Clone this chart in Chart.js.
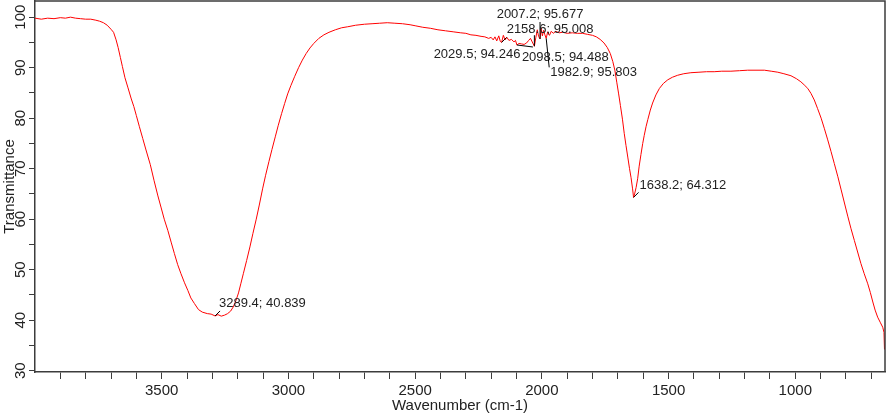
<!DOCTYPE html>
<html>
<head>
<meta charset="utf-8">
<script src="https://cdn.jsdelivr.net/npm/chart.js@4"></script>
<style>
  html, body { margin: 0; padding: 0; background: #fff; }
  #wrap { width: 886px; height: 415px; position: relative; }
</style>
</head>
<body>
<div id="wrap"><canvas id="graficoIR"></canvas></div>
<script>
const numeroOnda = [
  4000, 3975, 3950, 3925, 3900, 3880, 3860, 3840, 3820, 3800, 3780, 3760, 3745, 3730, 3715, 3700,
  3690, 3680, 3672, 3663, 3655, 3645, 3633, 3620, 3610, 3600, 3588, 3575, 3562, 3545, 3530, 3515,
  3503, 3490, 3476, 3462, 3450, 3437, 3424, 3410, 3397, 3385, 3371, 3355, 3340, 3320, 3305, 3289.4,
  3278, 3265, 3252, 3240, 3228, 3218, 3207, 3197, 3188, 3178, 3165, 3152, 3140, 3127, 3115, 3102,
  3090, 3077, 3065, 3052, 3040, 3027, 3015, 3003, 2990, 2975, 2960, 2945, 2930, 2915, 2900, 2880,
  2860, 2840, 2815, 2790, 2766, 2735, 2700, 2670, 2640, 2610, 2580, 2550, 2520, 2500, 2470, 2440,
  2410, 2380, 2350, 2320, 2300, 2280, 2260, 2240, 2225, 2210, 2200, 2192, 2185, 2178, 2170, 2164,
  2158.6, 2152, 2145, 2138, 2130, 2120, 2110, 2104, 2098.5, 2090, 2080, 2070, 2060, 2052, 2045, 2038,
  2029.5, 2024, 2018, 2013, 2007.2, 2003, 1998, 1993, 1988, 1982.9, 1977, 1970, 1963, 1955, 1945, 1932,
  1918, 1900, 1880, 1860, 1840, 1820, 1800, 1785, 1770, 1755, 1742, 1730, 1720, 1712, 1704, 1697,
  1690, 1682, 1675, 1668, 1661, 1654, 1648, 1642, 1638.2, 1634, 1628, 1622, 1616, 1609, 1602, 1596,
  1589, 1582, 1572, 1563, 1550, 1536, 1520, 1503, 1485, 1464, 1440, 1412, 1380, 1350, 1320, 1290,
  1254, 1220, 1188, 1155, 1122, 1095, 1069, 1045, 1017, 995, 978, 965, 951, 938, 925, 912,
  898, 885, 872, 859, 846, 832, 819, 806, 793, 780, 767, 754, 741, 728, 714, 704,
  694, 685, 675, 665, 655, 650, 648
];
const transmitancia = [
  99.8, 99.6, 99.8, 99.7, 99.9, 99.8, 100.0, 99.8, 99.7, 99.6, 99.6, 99.4, 99.2, 98.9, 98.4, 97.6,
  97.0, 95.5, 94.0, 92.0, 90.2, 88.0, 86.0, 83.8, 82.3, 80.5, 78.3, 76.0, 73.7, 70.8, 67.6, 64.6,
  62.4, 60.0, 57.8, 55.3, 53.2, 51.0, 49.2, 47.4, 45.9, 44.4, 43.3, 42.1, 41.6, 41.3, 41.2, 40.839,
  41.1, 40.8, 41.0, 41.3, 41.8, 42.6, 43.9, 45.4, 47.2, 49.2, 51.8, 54.5, 57.2, 60.0, 62.8, 66.0,
  68.7, 71.4, 73.8, 76.3, 78.6, 80.9, 82.9, 84.8, 86.5, 88.3, 90.0, 91.5, 92.8, 93.9, 94.8, 95.8,
  96.5, 97.0, 97.5, 97.9, 98.1, 98.4, 98.6, 98.7, 98.8, 98.9, 98.8, 98.7, 98.5, 98.3, 98.0, 97.8,
  97.5, 97.3, 97.1, 96.9, 96.8, 96.5, 96.4, 96.2, 96.1, 95.8, 96.0, 95.5, 96.1, 95.3, 96.3, 95.2,
  95.008, 96.4, 95.5, 96.0, 95.4, 95.6, 95.1, 95.4, 94.488, 94.8, 94.7, 94.6, 94.9, 95.4, 95.8, 95.1,
  94.246, 95.9, 97.5, 96.2, 95.677, 97.9, 96.3, 97.4, 96.5, 95.803, 97.1, 96.4, 97.2, 96.8, 97.2, 96.9,
  97.0, 96.8, 96.9, 96.8, 96.8, 96.6, 96.4, 96.1, 95.6, 94.9, 94.0, 92.8, 91.2, 89.5, 87.0, 84.8,
  82.5, 79.8, 77.0, 74.6, 72.3, 70.0, 68.2, 66.0, 64.312, 65.0, 66.3, 68.0, 70.5, 72.8, 75.0, 76.6,
  78.3, 79.7, 81.6, 83.0, 84.6, 85.9, 86.9, 87.6, 88.1, 88.5, 88.8, 89.0, 89.1, 89.2, 89.2, 89.3,
  89.3, 89.4, 89.5, 89.5, 89.5, 89.3, 89.1, 88.8, 88.4, 87.8, 87.2, 86.6, 85.9, 84.9, 83.6, 81.9,
  80.0, 77.9, 75.7, 73.4, 71.0, 68.4, 65.8, 63.2, 60.6, 58.1, 55.8, 53.5, 51.2, 49.2, 47.2, 45.5,
  43.6, 42.0, 40.6, 39.6, 38.6, 37.6, 34.2
];

// Picos marcados no espectro
const picoX = [3289.4, 1638.2, 2007.2, 2158.6, 2029.5, 2098.5, 1982.9];
const picoY = [40.839, 64.312, 95.677, 95.008, 94.246, 94.488, 95.803];

// Rotulos dos eixos
const xTickLabels = [3500, 3000, 2500, 2000, 1500, 1000];
const yTickLabels = [30, 40, 50, 60, 70, 80, 90, 100];

// Posicao dos rotulos dos picos (em pixels, relativo ao ponto)
const posRotulos = [
  { dx: 4, dy: -13, align: 'left', lx: 5, ly: -5 },
  { dx: 6, dy: -12, align: 'left', lx: 5, ly: -5 },
  { dx: 0, dy: -25, align: 'center', lx: 0, ly: -17 },
  { dx: 5, dy: -12.5, align: 'left', lx: 5, ly: -5 },
  { dx: -14, dy: 8, align: 'right', lx: 0, ly: -11 },
  { dx: 5, dy: 12, align: 'left', lx: 16, ly: 2 },
  { dx: 4, dy: 34, align: 'left', lx: 3, ly: 29 }
];

const corEixo = '#3c3c3c';
const corTexto = '#222';

Chart.defaults.font.family = 'Arial, "Liberation Sans", sans-serif';

// ticks menores a cada 100 e a cada 5
const xTicks = [];
for (let v = 700; v <= 3900; v += 100) xTicks.push(v);
const yTicks = [];
for (let v = 30; v <= 100; v += 5) yTicks.push(v);

const pluginMoldura = {
  id: 'moldura',
  afterDraw(chart) {
    const { ctx, chartArea: a } = chart;
    ctx.save();
    ctx.strokeStyle = corEixo;
    ctx.lineWidth = 1.5;
    ctx.beginPath();
    ctx.moveTo(a.left, a.top);
    ctx.lineTo(a.right, a.top);
    ctx.lineTo(a.right, a.bottom);
    ctx.stroke();
    ctx.restore();
  }
};

const pluginPicos = {
  id: 'picos',
  afterDatasetsDraw(chart) {
    const { ctx } = chart;
    const x = chart.scales.x;
    const y = chart.scales.y;
    ctx.save();
    ctx.font = '13px Arial, "Liberation Sans", sans-serif';
    ctx.fillStyle = corTexto;
    ctx.strokeStyle = '#000';
    ctx.lineWidth = 1;
    picoX.forEach((px, i) => {
      const cx = x.getPixelForValue(px);
      const cy = y.getPixelForValue(picoY[i]);
      const pos = posRotulos[i];
      ctx.beginPath();
      ctx.moveTo(cx, cy);
      ctx.lineTo(cx + pos.lx, cy + pos.ly);
      ctx.stroke();
      const texto = px.toFixed(1) + '; ' + picoY[i].toFixed(3);
      ctx.textAlign = pos.align;
      ctx.textBaseline = 'middle';
      ctx.fillText(texto, cx + pos.dx, cy + pos.dy);
    });
    ctx.restore();
  }
};

new Chart(document.getElementById('graficoIR'), {
  type: 'line',
  data: {
    datasets: [{
      label: 'Transmittance',
      data: numeroOnda.map((w, i) => ({ x: w, y: transmitancia[i] })),
      borderColor: '#ff0000',
      borderWidth: 1,
      pointRadius: 0,
      tension: 0,
      fill: false
    }]
  },
  options: {
    responsive: true,
    maintainAspectRatio: false,
    animation: false,
    layout: { padding: { top: 1, right: 1, left: 0, bottom: 0 } },
    plugins: {
      legend: { display: false },
      tooltip: { enabled: false }
    },
    scales: {
      x: {
        type: 'linear',
        reverse: true,
        min: 646,
        max: 4000,
        afterBuildTicks: s => { s.ticks = xTicks.map(v => ({ value: v })); },
        afterFit: s => { s.height = 43; s.paddingLeft = 0; s.paddingRight = 0; },
        ticks: {
          callback: v => xTickLabels.includes(v) ? String(v) : '',
          autoSkip: false,
          maxRotation: 0,
          padding: 3,
          color: corTexto,
          font: { size: 15 }
        },
        grid: { drawOnChartArea: false, tickLength: 7, color: corEixo },
        border: { color: corEixo, width: 1.5 },
        title: { display: true, text: 'Wavenumber (cm-1)', color: corTexto, font: { size: 15 }, padding: { top: 0, bottom: 0 } }
      },
      y: {
        min: 29.74,
        max: 103.2,
        afterBuildTicks: s => { s.ticks = yTicks.map(v => ({ value: v })); },
        afterFit: s => { s.width = 35; s.paddingTop = 0; s.paddingBottom = 0; },
        ticks: {
          callback: v => yTickLabels.includes(v) ? String(v) : '',
          autoSkip: false,
          minRotation: 90,
          maxRotation: 90,
          crossAlign: 'center',
          padding: -4,
          color: corTexto,
          font: { size: 15 }
        },
        grid: { drawOnChartArea: false, tickLength: 6, color: corEixo },
        border: { color: corEixo, width: 1.5 },
        title: { display: true, text: 'Transmittance', color: corTexto, font: { size: 15 }, padding: { top: 1, bottom: 0 } }
      }
    }
  },
  plugins: [pluginMoldura, pluginPicos]
});
</script>
</body>
</html>
